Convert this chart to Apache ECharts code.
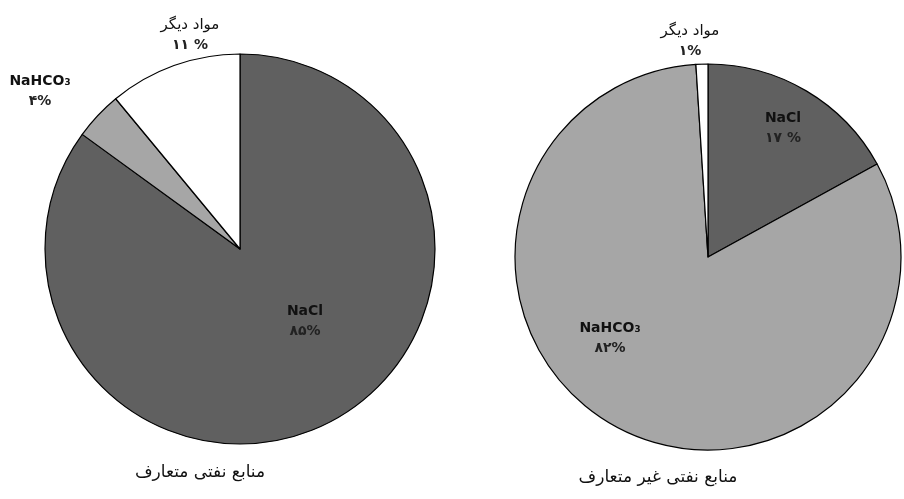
<!DOCTYPE html>
<html><head><meta charset="utf-8">
<script src="https://cdn.jsdelivr.net/npm/echarts@6/dist/echarts.min.js"></script>
<style>html,body{margin:0;padding:0;background:#fff}#c{width:904px;height:499px}</style>
</head><body><div id="c"></div>
<script>
// ---- data ----
var categories = ['NaCl', 'NaHCO\u2083', 'مواد دیگر'];
var conventionalValues = [85, 4, 11];
var conventionalPctLabels = ['۸۵%', '۴%', '١١ %'];
var unconventionalValues = [17, 82, 1];
var unconventionalPctLabels = ['۱۷ %', '۸۲%', '۱%'];
var titles = ['منابع نفتی متعارف', 'منابع نفتی غیر متعارف'];

// ---- style ----
var colors = ['#606060', '#a6a6a6', '#ffffff'];
var leftLabelPos = [[305, 321], [40, 91], [190, 35]];
var rightLabelPos = [[783, 128], [610, 338], [690, 41]];
var FONT = 'DejaVu Sans';

function buildData(vals, pcts) {
  return vals.map(function (v, i) {
    var isLatin = i < 2;
    return {
      name: categories[i], value: v,
      itemStyle: { color: colors[i] },
      label: {
        formatter: '{n|' + categories[i] + '}\n{p|' + pcts[i] + '}',
        rich: {
          n: { fontFamily: FONT, fontSize: isLatin ? 14 : 15, fontWeight: isLatin ? 'bold' : 'normal', color: '#111', lineHeight: 20, align: 'center' },
          p: { fontFamily: FONT, fontSize: 14, fontWeight: 'bold', color: '#222', lineHeight: 20, align: 'center' }
        }
      }
    };
  });
}
function layoutFn(pos) {
  return function (params) {
    var p = pos[params.dataIndex];
    return { x: p[0], y: p[1], align: 'center', verticalAlign: 'middle' };
  };
}
var chart = echarts.init(document.getElementById('c'));
chart.setOption({
  animation: false,
  title: [
    { text: titles[0], left: 195, top: 459, textAlign: 'center', textStyle: { fontFamily: FONT, fontSize: 17, fontWeight: 'normal', color: '#111' } },
    { text: titles[1], left: 653, top: 464, textAlign: 'center', textStyle: { fontFamily: FONT, fontSize: 17, fontWeight: 'normal', color: '#111' } }
  ],
  series: [
    {
      type: 'pie', center: [240, 249], radius: 195, startAngle: 90, clockwise: true,
      itemStyle: { borderColor: '#000', borderWidth: 1.2 },
      label: { show: true, position: 'inside' }, labelLine: { show: false },
      emphasis: { disabled: true },
      labelLayout: layoutFn(leftLabelPos),
      data: buildData(conventionalValues, conventionalPctLabels)
    },
    {
      type: 'pie', center: [708, 257], radius: 193, startAngle: 90, clockwise: true,
      itemStyle: { borderColor: '#000', borderWidth: 1.2 },
      label: { show: true, position: 'inside' }, labelLine: { show: false },
      emphasis: { disabled: true },
      labelLayout: layoutFn(rightLabelPos),
      data: buildData(unconventionalValues, unconventionalPctLabels)
    }
  ]
});
</script></body></html>
